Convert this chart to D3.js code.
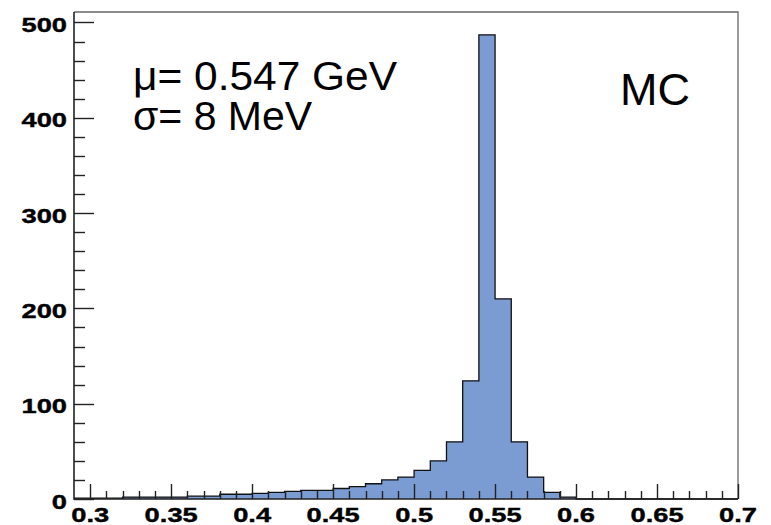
<!DOCTYPE html>
<html>
<head>
<meta charset="utf-8">
<script src="https://cdn.jsdelivr.net/npm/d3@7"></script>
<style>
  html, body { margin: 0; padding: 0; background: #fff; }
  svg { display: block; }
</style>
</head>
<body>
<svg id="chart" width="771" height="525"></svg>
<script>
// Invariant-mass histogram, 0.01 GeV bins starting at 0.29
const binStart = 0.29;
const binWidth = 0.01;
const counts = [
  1, 1, 1, 2, 2, 2, 2, 3, 3, 5,
  5, 6, 7, 8, 9, 9, 11, 13, 16, 20,
  23, 30, 40, 60, 124, 487, 210, 60, 23, 7,
  2, 0, 0, 0, 0, 0, 0, 0, 0, 0, 0
];
const xMajorTicks = [0.3, 0.35, 0.4, 0.45, 0.5, 0.55, 0.6, 0.65, 0.7];
const yMajorTicks = [0, 100, 200, 300, 400, 500];
const xDomain = [0.29, 0.70];
const yDomain = [0, 511];
const fitLines = ["\u03bc= 0.547 GeV", "\u03c3= 8 MeV"];

const svg = d3.select("#chart");
const padL = 74, padR = 738, padT = 12, padB = 499;

const x = d3.scaleLinear().domain(xDomain).range([padL, padR]);
const y = d3.scaleLinear().domain(yDomain).range([padB, padT]);

// histogram as a step area
const pts = counts.map((c, i) => [binStart + i * binWidth, c]);
pts.push([binStart + counts.length * binWidth, counts[counts.length - 1]]);

const area = d3.area()
  .x(d => x(d[0])).y0(y(0)).y1(d => y(d[1]))
  .curve(d3.curveStepAfter);
const line = d3.line()
  .x(d => x(d[0])).y(d => y(d[1]))
  .curve(d3.curveStepAfter);

svg.append("path").datum(pts)
  .attr("d", area)
  .attr("fill", "#7b9bd3");
svg.append("path").datum(pts)
  .attr("d", line)
  .attr("fill", "none")
  .attr("stroke", "#111")
  .attr("stroke-width", 1.3);

// frame
svg.append("path")
  .attr("d", `M${padL},${padT}H${padR}V${padB}`)
  .attr("fill", "none").attr("stroke", "#666").attr("stroke-width", 1.3);

const g = svg.append("g").attr("stroke", "#222").attr("stroke-width", 1.4);

// y ticks (drawn inward)
const yMinor = d3.range(0, 501, 20);
g.selectAll("line.ymin").data(yMinor).join("line")
  .attr("x1", padL).attr("x2", d => padL + (d % 100 === 0 ? 20 : 11))
  .attr("y1", d => Math.round(y(d)) + 0.5).attr("y2", d => Math.round(y(d)) + 0.5);

// x ticks (drawn inward)
const xMinor = d3.range(30, 71).map(v => v / 100);
g.selectAll("line.xmin").data(xMinor).join("line")
  .attr("x1", d => Math.round(x(d)) + 0.5).attr("x2", d => Math.round(x(d)) + 0.5)
  .attr("y1", padB).attr("y2", d => padB - (Math.round(d * 100) % 5 === 0 ? 15 : 8));

// axis lines
svg.append("path")
  .attr("d", `M${padL},${padT}V${padB}H${padR}`)
  .attr("fill", "none").attr("stroke", "#222").attr("stroke-width", 1.6);

// tick labels
const lab = {
  "font-family": "'Liberation Sans', Arial, sans-serif", "font-weight": "bold",
  "font-size": "21px", "fill": "#000", "stroke": "#000", "stroke-width": 0.4
};
const fmt = d3.format("");

svg.selectAll("text.xl").data(xMajorTicks).join("text")
  .attr("transform", d => `translate(${x(d)},522) scale(1.3,1)`)
  .attr("text-anchor", "middle")
  .each(function () { const s = d3.select(this); for (const k in lab) s.attr(k, lab[k]); })
  .text(d => fmt(d));

svg.selectAll("text.yl").data(yMajorTicks).join("text")
  .attr("transform", d => `translate(67,${y(d) + 9.5}) scale(1.3,1)`)
  .attr("text-anchor", "end")
  .each(function () { const s = d3.select(this); for (const k in lab) s.attr(k, lab[k]); })
  .text(d => d);

// fit results, two lines in one text block
const ann = svg.append("g")
  .attr("font-family", "'Liberation Sans', Arial, Helvetica, sans-serif")
  .attr("fill", "#000");
const fit = ann.append("text").attr("font-size", "41px");
fit.append("tspan").attr("x", 133).attr("y", 89.5)
  .attr("textLength", 264).attr("lengthAdjust", "spacingAndGlyphs").text(fitLines[0]);
fit.append("tspan").attr("x", 133).attr("y", 130).text(fitLines[1]);
ann.append("text").attr("x", 620).attr("y", 105).attr("font-size", "45px").text("MC");
</script>
</body>
</html>
